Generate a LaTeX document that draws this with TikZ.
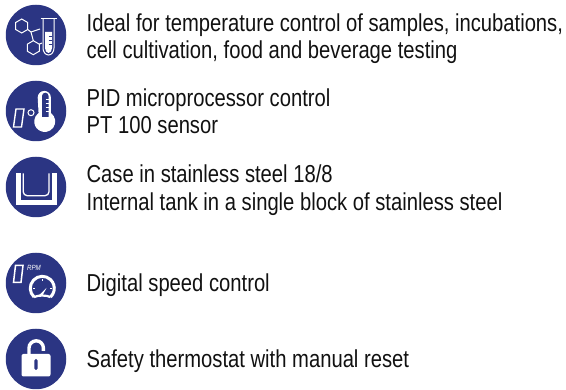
\documentclass[tikz,border=0pt]{standalone}
\usepackage{fontspec}
\setmainfont[FakeStretch=0.825]{Liberation Sans}
\usepackage{tikz}
\usetikzlibrary{positioning}
\definecolor{badgeblue}{HTML}{2B3583}
\definecolor{bodytext}{HTML}{111111}
\tikzstyle{badge}=[
    circle,
    fill=badgeblue,
    minimum size=60.5pt,
    inner sep=0pt
]
\tikzstyle{feature}=[
    node distance=20pt,
    inner sep=0pt,
    align=left,
    text=bodytext,
    font=\fontsize{24.5pt}{27.5pt}\selectfont
]
\tikzstyle{line}=[
    draw=white,
    line width=1pt
]
\tikzstyle{thick line}=[
    draw=white,
    line width=3pt
]
\tikzstyle{solid}=[
    fill=white
]
\tikzstyle{cutout}=[
    fill=badgeblue
]

\begin{document}
\begin{tikzpicture}[x=1pt,y=-1pt]
\useasboundingbox (0,0) rectangle (566,390);

\node[badge] (samples) at (36,35) {};
\node[badge] (pid) at (36,111) {};
\node[badge] (case) at (36,187) {};
\node[badge] (speed) at (36,283) {};
\node[badge] (safety) at (36,359) {};

\node[feature, right=of samples, yshift=-3.5pt] (samplestext) {Ideal for temperature control of samples, incubations,\\cell cultivation, food and beverage testing};
\node[feature, right=of pid, yshift=-0.3pt] (pidtext) {PID microprocessor control\\PT 100 sensor};
\node[feature, right=of case, yshift=-3pt] (casetext) {Case in stainless steel 18/8\\Internal tank in a single block of stainless steel};
\node[feature, right=of speed, yshift=-2pt] (speedtext) {Digital speed control};
\node[feature, right=of safety, yshift=-2pt] (safetytext) {Safety thermostat with manual reset};

% flask and molecule
\draw[line] (21.7,19) -- (27.7,22.5) -- (27.7,29.5) -- (21.7,33) -- (15.7,29.5) -- (15.7,22.5) -- cycle;
\draw[line] (33.3,40.7) -- (39.3,44.2) -- (39.3,51.2) -- (33.3,54.7) -- (27.3,51.2) -- (27.3,44.2) -- cycle;
\draw[line] (27.7,29.5) -- (31,32) -- (40,29);
\draw[line] (31,32) -- (33.3,40.7);
\draw[line] (39.3,44.2) -- (42,43);
\draw[line] (40.5,19) -- (56.5,19);
\draw[line] (43,19) -- (43,48) arc[start angle=180,end angle=0,x radius=5.5,y radius=7] -- (54,19);
\fill[solid] (45,32) -- (52,32) -- (52,48) arc[start angle=0,end angle=180,x radius=3.5,y radius=5] -- cycle;
\foreach \y in {36,40,44}
    \draw[draw=badgeblue, line width=.8pt] (48.5,\y) -- (52,\y);

% display and thermometer
\draw[line, line width=1.4pt] (16,109) -- (24,109) -- (21.5,127) -- (13.5,127) -- cycle;
\draw[line] (31,112.7) circle[radius=3];
\fill[solid] (37.7,97.5) arc[start angle=180,end angle=360,radius=6.6] -- (50.9,113)
    arc[start angle=-54,end angle=234,radius=10.5] -- cycle;
\fill[cutout] (42,96) arc[start angle=180,end angle=360,radius=3.3] -- (48.6,117) -- (42,117) -- cycle;
\foreach \y in {99,103,107,111}
    \draw[draw=white, line width=.8pt] (45.5,\y) -- (48.6,\y);

% tank
\draw[thick line, line width=5pt, line join=miter] (18.2,173.3) -- (18.2,202.5) -- (54.2,202.5) -- (54.2,173.3);
\draw[line, line width=1.3pt, rounded corners=4pt] (23.2,173.3) -- (23.2,195.7) -- (49,195.7) -- (49,173.3);

% display and gauge
\draw[line, line width=1.5pt] (15.5,265.5) -- (23,265.5) -- (21,282.5) -- (13.5,282.5) -- cycle;
\node[inner sep=0pt, text=white, font=\fontsize{7.5pt}{7.5pt}\selectfont\itshape] (rpm) at (34,268) {RPM};
\draw[thick line] (34.1,297.1) arc[start angle=133,end angle=407,radius=12];
\draw[thick line, line width=2.2pt] (34.1,297.1) .. controls (38,295) and (46.5,295) .. (50.5,297.1);
\fill[solid] (39.2,295) -- (46.5,288) -- (42.5,295.5) -- cycle;
\draw[draw=white, line width=.8pt] (33,288.3) -- (35,288.3) (42.3,279) -- (42.3,281) (51.6,288.3) -- (49.6,288.3);

% padlock
\draw[thick line, line width=3.4pt] (29,354) -- (29,348) arc[start angle=180,end angle=360,radius=7.2] -- (43.4,351);
\fill[solid, rounded corners=2pt] (21.5,354) rectangle (50.5,376.5);
\fill[cutout, rounded corners=1.5pt] (34.3,359) rectangle (37.7,370);

\end{tikzpicture}
\end{document}
